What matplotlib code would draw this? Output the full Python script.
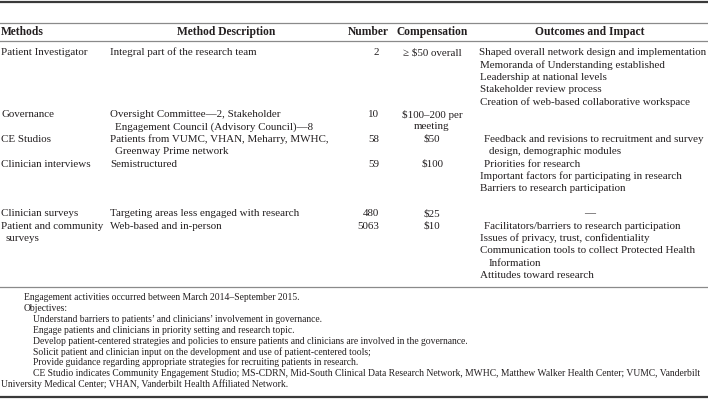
import matplotlib.pyplot as plt

plt.rcParams['font.family'] = ['Liberation Serif', 'DejaVu Serif']

headers = ["Methods", "Method Description", "Number", "Compensation", "Outcomes and Impact"]

methods = [["Patient Investigator"], ["Governance"], ["CE Studios"], ["Clinician interviews"],
           ["Clinician surveys"], ["Patient and community", "surveys"]]

descriptions = [["Integral part of the research team"],
                ["Oversight Committee—2, Stakeholder", "Engagement Council (Advisory Council)—8"],
                ["Patients from VUMC, VHAN, Meharry, MWHC,", "Greenway Prime network"],
                ["Semistructured"],
                ["Targeting areas less engaged with research"],
                ["Web-based and in-person"]]

numbers = [2, 10, 58, 59, 480, 5063]

compensation = [["≥ $50 overall"], ["$100–200 per", "meeting"], ["$50"], ["$100"], ["$25"], ["$10"]]

# each outcome item is a list of its wrapped lines
outcomes = [[["Shaped overall network design and implementation"],
             ["Memoranda of Understanding established"],
             ["Leadership at national levels"],
             ["Stakeholder review process"],
             ["Creation of web-based collaborative workspace"]],
            [],
            [["Feedback and revisions to recruitment and survey", "design, demographic modules"]],
            [["Priorities for research"],
             ["Important factors for participating in research"],
             ["Barriers to research participation"]],
            [["—"]],
            [["Facilitators/barriers to research participation"],
             ["Issues of privacy, trust, confidentiality"],
             ["Communication tools to collect Protected Health", "Information"],
             ["Attitudes toward research"]]]

row_lines = [5, 2, 2, 4, 1, 5]

footnotes = ["Engagement activities occurred between March 2014–September 2015.",
             "Objectives:",
             "Understand barriers to patients’ and clinicians’ involvement in governance.",
             "Engage patients and clinicians in priority setting and research topic.",
             "Develop patient-centered strategies and policies to ensure patients and clinicians are involved in the governance.",
             "Solicit patient and clinician input on the development and use of patient-centered tools;",
             "Provide guidance regarding appropriate strategies for recruiting patients in research.",
             "CE Studio indicates Community Engagement Studio; MS-CDRN, Mid-South Clinical Data Research Network, MWHC, Matthew Walker Health Center; VUMC, Vanderbilt",
             "University Medical Center; VHAN, Vanderbilt Health Affiliated Network."]
footnote_indent = [24, 24, 33, 33, 33, 33, 33, 33, 1]

txt = '#231f20'
fs = 7.9
fs_head = 8.3
fs_note = 6.9

# column anchors (pixels)
x_meth, x_desc, x_num, x_comp, x_out = 1, 110, 368, 432, 480
x_num_right = 379
x_out_head = 590

fig = plt.figure(figsize=(7.08, 4.0), dpi=100)
ax = fig.add_axes([0, 0, 1, 1])
ax.set_xlim(0, 708)
ax.set_ylim(400, 0)
ax.axis('off')

# rules
ax.axhline(1.5, color='#3a3a3a', lw=1.6)
ax.axhline(22.5, color='#8a8a8a', lw=0.9)
ax.axhline(40.5, color='#8a8a8a', lw=0.9)
ax.axhline(286.5, color='#8a8a8a', lw=0.9)
ax.axhline(396.5, color='#3a3a3a', lw=1.6)

# header
hy = 32
ax.text(x_meth, hy, headers[0], ha='left', va='center', fontsize=fs_head, fontweight='bold', color=txt)
ax.text(226, hy, headers[1], ha='center', va='center', fontsize=fs_head, fontweight='bold', color=txt)
ax.text(x_num, hy, headers[2], ha='center', va='center', fontsize=fs_head, fontweight='bold', color=txt)
ax.text(x_comp, hy, headers[3], ha='center', va='center', fontsize=fs_head, fontweight='bold', color=txt)
ax.text(x_out_head, hy, headers[4], ha='center', va='center', fontsize=fs_head, fontweight='bold', color=txt)

y0 = 52.5
dy = 12.4
line = 0
for i in range(len(methods)):
    y = y0 + line * dy
    for j, s in enumerate(methods[i]):
        ax.text(x_meth + (5 if j else 0), y + j * dy, s, ha='left', va='center', fontsize=fs, color=txt)
    for j, s in enumerate(descriptions[i]):
        ax.text(x_desc + (5 if j else 0), y + j * dy, s, ha='left', va='center', fontsize=fs, color=txt)
    ax.text(x_num_right, y, str(numbers[i]), ha='right', va='center', fontsize=fs, color=txt)
    for j, s in enumerate(compensation[i]):
        ax.text(x_comp, y + j * dy, s, ha='center', va='center', fontsize=fs, color=txt)
    k = 0
    for n, item in enumerate(outcomes[i]):
        for j, s in enumerate(item):
            if s == "—":
                ax.text(x_out_head, y + k * dy, s, ha='center', va='center', fontsize=fs, color=txt)
            else:
                x = x_out
                if n == 0 and i > 0:
                    x = x_out + 4
                if n == 0 and i == 0:
                    x = x_out - 1
                if j > 0:
                    x = x_out + 9
                ax.text(x, y + k * dy, s, ha='left', va='center', fontsize=fs, color=txt)
            k += 1
    line += row_lines[i]

fy0 = 298
fdy = 10.75
for i, s in enumerate(footnotes):
    ax.text(footnote_indent[i], fy0 + i * fdy, s, ha='left', va='center', fontsize=fs_note, color=txt)

fig.savefig('out.png', dpi=100)
